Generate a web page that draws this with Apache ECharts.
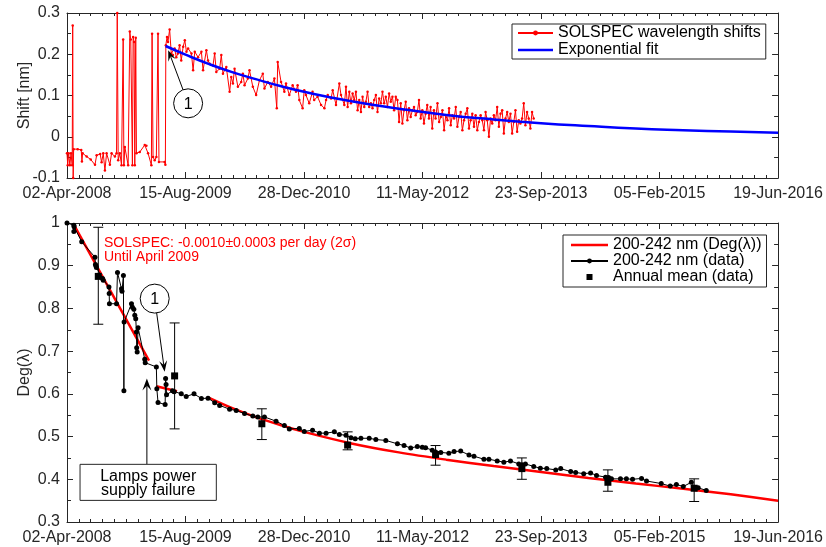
<!DOCTYPE html>
<html><head><meta charset="utf-8">
<script src="https://cdn.jsdelivr.net/npm/echarts@6/dist/echarts.min.js"></script>
<style>html,body{margin:0;padding:0;background:#fff}#chart{width:826px;height:547px}</style>
</head><body><div id="chart"></div>
<script>
// ---------------- data (x = days since 02-Apr-2008) ----------------
const xTickLabels = ['02-Apr-2008','15-Aug-2009','28-Dec-2010','11-May-2012','23-Sep-2013','05-Feb-2015','19-Jun-2016'];

const shiftDays = [0,3,7,12,17,22,24,26,28,45,60,63,66,83,100,118,125,140,146,153,160,167,181,188,202,209,212,216,223,230,237,240,244,258,265,269,276,279,283,286,290,293,307,328,335,342,356,359,363,370,377,384,388,412,415,
417,422,426,433,440,447,454,461,468,475,482,490,497,504,511,525,532,539,553,567,574,588,595,602,616,623,630,644,651,658,672,686,693,700,707,721,735,742,749,763,770,784,798,812,826,833,847,861,875,885,889,903,917,924,938,952,966,973,980,994,1001,1008,1022,1036,1043,1057,1072,1086,1093,1100,1114,1121,1135,1149,1156,1170,
1177,1184,1191,1198,1205,1212,1219,1226,1233,1240,1247,1254,1261,1268,1275,1282,1289,1296,1303,1310,1317,1324,1331,1338,1345,1352,1359,1366,1373,1380,1387,1394,1401,1408,1415,1422,1429,1436,1443,1450,1457,1464,1471,1478,1485,1492,1499,1506,1513,1520,1527,1534,1541,1548,1555,1563,1570,1577,1584,1591,1598,1605,1612,1619,1626,1633,1640,1647,1654,1661,1668,1675,1682,1689,1696,1703,1710,1717,1724,1731,1738,1745,1752,1759,1766,1773,1780,1787,1794,1801,1808,1815,1822,1829,1836,1843,1850,1857,1864,1871,1878,1885,1892,1899,1906,1913,1920,1927,1934,1941,1948,1955,1962,1969];
const shiftValues = [-0.040,-0.069,-0.040,-0.069,-0.040,-0.069,0.270,-0.100,-0.030,-0.030,-0.032,-0.060,-0.040,-0.048,-0.055,-0.068,-0.045,-0.042,-0.062,-0.040,-0.082,-0.040,-0.068,-0.040,-0.048,-0.040,0.300,-0.057,-0.040,-0.069,0.236,-0.069,-0.025,-0.069,0.255,0.236,-0.069,0.242,0.230,-0.069,0.240,-0.040,-0.037,-0.020,-0.022,-0.040,-0.069,0.250,-0.049,-0.057,-0.049,0.250,-0.061,-0.061,-0.068,
0.222,0.242,0.230,0.260,0.202,0.198,0.214,0.193,0.202,0.222,0.185,0.218,0.234,0.206,0.214,0.202,0.161,0.206,0.193,0.206,0.161,0.210,0.185,0.177,0.173,0.202,0.157,0.165,0.198,0.153,0.169,0.109,0.145,0.129,0.165,0.121,0.133,0.153,0.125,0.141,0.161,0.121,0.101,0.137,0.153,0.117,0.133,0.121,0.141,0.069,0.181,0.133,0.109,0.129,0.101,0.125,0.109,0.125,0.089,0.069,0.113,0.101,0.081,0.109,0.089,0.097,0.077,0.069,0.089,0.101,0.093,0.113,0.077,0.129,0.101,0.077,
0.121,0.072,0.109,0.081,0.105,0.089,0.109,0.064,0.089,0.060,0.097,0.072,0.085,0.109,0.072,0.081,0.069,0.089,0.101,0.060,0.093,0.081,0.109,0.081,0.097,0.072,0.105,0.085,0.097,0.064,0.097,0.089,0.036,0.081,0.032,0.064,0.085,0.040,0.069,0.048,0.064,0.072,0.052,0.060,0.089,0.044,0.064,0.032,0.056,0.077,0.044,0.072,0.020,0.064,0.044,0.081,0.036,0.048,0.064,0.016,0.052,0.040,0.069,0.028,0.052,0.044,0.072,0.024,0.048,0.060,0.016,0.040,0.056,0.069,0.020,0.040,0.056,0.024,0.052,0.016,0.036,0.052,0.040,0.016,0.060,0.040,0.000,0.044,0.032,0.052,0.040,0.072,0.024,0.056,0.064,0.008,0.044,0.060,0.036,0.056,0.008,0.036,0.064,0.012,0.040,0.032,0.044,0.081,0.028,0.060,0.044,0.020,0.060,0.044];

const expFitDays   = [416,500,600,700,800,900,1000,1200,1400,1600,1800,2000,2200,2400,2600,2800,3000];
const expFitValues = [0.220,0.199,0.176,0.156,0.139,0.123,0.109,0.086,0.068,0.053,0.042,0.033,0.026,0.020,0.016,0.0126,0.0099];

const degDays = [0,29,29,30,62,118,120,122,124,150,153,177,178,179,209,213,230,232,238,240,241,272,276,282,286,290,293,294,296,300,328,330,377,379,384,414,416,418,420,445,452,482,503,536,567,595,623,644,686,714,749,784,805,833,882,917,938,980,1001,1036,1065,1093,1128,1149,1177,1198,1216,1240,1275,1303,1345,1394,1422,1450,1478,1499,1513,1541,1555,1577,1611,1633,1661,1696,1717,1759,1780,1815,1843,1871,1906,1920,1934,1969,1997,2024,2062,2083,2125,2146,2180,2209,2234,2272,2285,2297,2335,2360,2386,2424,2445,2507,2545,2571,2600,2634,2651,2663,2697];
const degValues = [1.000,0.995,0.980,0.991,0.956,0.920,0.903,0.900,0.896,0.870,0.866,0.850,0.835,0.811,0.811,0.884,0.846,0.840,0.877,0.607,0.768,0.811,0.803,0.798,0.784,0.776,0.745,0.708,0.698,0.755,0.681,0.673,0.663,0.612,0.580,0.575,0.636,0.622,0.598,0.607,0.605,0.600,0.594,0.600,0.589,0.590,0.579,0.573,0.564,0.561,0.554,0.548,0.546,0.546,0.536,0.526,0.518,0.519,0.512,0.515,0.508,0.508,0.511,0.505,0.503,0.497,0.495,0.496,0.496,0.493,0.491,0.483,0.479,0.473,0.477,0.475,0.474,0.468,0.464,0.463,0.461,0.465,0.466,0.457,0.454,0.447,0.447,0.443,0.440,0.443,0.436,0.434,0.436,0.430,0.426,0.425,0.422,0.425,0.418,0.416,0.413,0.415,0.409,0.405,0.404,0.401,0.401,0.401,0.400,0.402,0.396,0.390,0.384,0.388,0.383,0.393,0.379,0.380,0.374];

const degFitDays   = [34,346,360,377,464,530,595,700,800,900,1000,1200,1400,1600,1800,2000,2200,2400,2600,2800,3000];
const degFitValues = [0.991,0.678,null,0.618,0.606,null,0.592,0.566,0.545,0.527,0.511,0.484,0.463,0.446,0.431,0.417,0.403,0.390,0.378,0.365,0.350];

const annualDays = [132,454,822,1184,1555,1919,2282,2646];
const annualMean = [0.875,0.642,0.530,0.480,0.458,0.425,0.393,0.379];
const annualLow  = [0.763,0.518,0.493,0.469,0.433,0.400,0.372,0.348];
const annualHigh = [0.990,0.766,0.565,0.511,0.479,0.450,0.422,0.401];

// ---------------- styling ----------------
const FONT = '"Liberation Sans", Arial, Helvetica, sans-serif';
const AX = '#262626', TXT = '#262626';
const zip = (a, b) => a.map((v, i) => [v, b[i]]);
const LINE_ICON = 'path://M0,0M37,6M0,1.75h37v2.5h-37z';

function xAxes(gridIndex) {
  const common = {
    type: 'value', gridIndex, min: 0, max: 3000, interval: 500,
    axisLine: {show: true, onZero: false, lineStyle: {color: AX, width: 1}},
    axisTick: {show: true, inside: true, length: 6, lineStyle: {color: AX}},
    minorTick: {show: true, splitNumber: 10, length: 3, lineStyle: {color: AX}},
    splitLine: {show: false}, minorSplitLine: {show: false}
  };
  return [
    Object.assign({}, common, {position: 'bottom', axisLabel: {show: true, fontSize: 16, fontFamily: FONT, color: TXT, margin: 8,
      formatter: v => xTickLabels[Math.round(v / 500)] || ''}}),
    Object.assign({}, common, {position: 'top', axisLabel: {show: false}})
  ];
}
function yAxes(gridIndex, min, max, name) {
  const common = {
    type: 'value', gridIndex, min, max, interval: 0.1,
    axisLine: {show: true, onZero: false, lineStyle: {color: AX, width: 1}},
    axisTick: {show: true, inside: true, length: 6, lineStyle: {color: AX}},
    minorTick: {show: true, splitNumber: 2, length: 4, lineStyle: {color: AX}},
    splitLine: {show: false}, minorSplitLine: {show: false}
  };
  return [
    Object.assign({}, common, {position: 'left', name, nameLocation: 'middle', nameGap: 34, nameMoveOverlap: false,
      nameTextStyle: {fontSize: 16, fontFamily: FONT, color: TXT},
      axisLabel: {show: true, fontSize: 16, fontFamily: FONT, color: TXT, margin: 7}}),
    Object.assign({}, common, {position: 'right', axisLabel: {show: false}})
  ];
}

const legendText = {fontSize: 16, fontFamily: FONT, color: '#000', lineHeight: 16};

const option = {
  animation: false,
  backgroundColor: '#fff',
  grid: [
    {left: 67, top: 13, width: 713, height: 165},
    {left: 67, top: 223, width: 713, height: 299}
  ],
  xAxis: [...xAxes(0), ...xAxes(1)],
  yAxis: [...yAxes(0, -0.1, 0.3, 'Shift [nm]'), ...yAxes(1, 0.3, 1, 'Deg(λ)')],
  legend: [
    {orient: 'vertical', left: 512, top: 24, padding: [1, 5, 1, 5], itemGap: 1, itemWidth: 35, itemHeight: 6,
     borderColor: AX, borderWidth: 1, backgroundColor: '#fff', selectedMode: false, align: 'left',
     textStyle: legendText,
     data: ['SOLSPEC wavelength shifts', {name: 'Exponential fit', icon: LINE_ICON}]},
    {orient: 'vertical', left: 563, top: 235, padding: [2, 5, 2, 7], itemGap: 0, itemWidth: 37, itemHeight: 6,
     borderColor: AX, borderWidth: 1, backgroundColor: '#fff', selectedMode: false, align: 'left',
     textStyle: legendText,
     data: [{name: '200-242 nm (Deg(λ))', icon: LINE_ICON}, '200-242 nm (data)',
            {name: 'Annual mean (data)', icon: 'path://M0,0M37,6M15.5,0h6v6h-6z'}]}
  ],
  series: [
    {name: 'SOLSPEC wavelength shifts', type: 'line', xAxisIndex: 0, yAxisIndex: 0,
     data: zip(shiftDays, shiftValues), symbol: 'circle', symbolSize: 2.5, showSymbol: true,
     itemStyle: {color: '#ff0000'}, lineStyle: {color: '#ff0000', width: 1}, z: 2},
    {name: 'Exponential fit', type: 'line', xAxisIndex: 0, yAxisIndex: 0,
     data: zip(expFitDays, expFitValues), smooth: true, showSymbol: false, symbol: 'none',
     itemStyle: {color: '#0000ff'}, lineStyle: {color: '#0000ff', width: 2.5}, z: 3},
    {name: '200-242 nm (Deg(λ))', type: 'line', xAxisIndex: 2, yAxisIndex: 2,
     data: zip(degFitDays, degFitValues), smooth: 0.3, connectNulls: false, showSymbol: false, symbol: 'none',
     itemStyle: {color: '#ff0000'}, lineStyle: {color: '#ff0000', width: 2.5}, z: 2},
    {name: '200-242 nm (data)', type: 'line', xAxisIndex: 2, yAxisIndex: 2,
     data: zip(degDays, degValues), symbol: 'circle', symbolSize: 5, showSymbol: true,
     itemStyle: {color: '#000', opacity: 1}, lineStyle: {color: '#000', width: 1}, z: 3},
    {name: 'Annual mean error', type: 'custom', xAxisIndex: 2, yAxisIndex: 2,
     data: annualDays.map((d, i) => [d, annualLow[i], annualHigh[i]]),
     encode: {x: 0, y: [1, 2]}, z: 4,
     renderItem: (params, api) => {
       const x = api.value(0);
       const pLo = api.coord([x, api.value(1)]), pHi = api.coord([x, api.value(2)]);
       const cap = 5, style = {stroke: '#000', lineWidth: 1};
       return {type: 'group', children: [
         {type: 'line', shape: {x1: pLo[0], y1: pLo[1], x2: pHi[0], y2: pHi[1]}, style},
         {type: 'line', shape: {x1: pLo[0] - cap, y1: pLo[1], x2: pLo[0] + cap, y2: pLo[1]}, style},
         {type: 'line', shape: {x1: pHi[0] - cap, y1: pHi[1], x2: pHi[0] + cap, y2: pHi[1]}, style}
       ]};
     }},
    {name: 'Annual mean (data)', type: 'scatter', xAxisIndex: 2, yAxisIndex: 2,
     data: zip(annualDays, annualMean), symbol: 'rect', symbolSize: 7,
     itemStyle: {color: '#000', opacity: 1}, z: 5}
  ]
};

const chart = echarts.init(document.getElementById('chart'));
chart.setOption(option);

// ---------------- annotations (anchored in data coordinates) ----------------
const toPx = (panel, d, v) => chart.convertToPixel({xAxisIndex: panel * 2, yAxisIndex: panel * 2}, [d, v]);
function arrow(S, T, L, W) {
  const dx = T[0] - S[0], dy = T[1] - S[1], len = Math.hypot(dx, dy);
  const ux = dx / len, uy = dy / len, nx = -uy, ny = ux;
  const back = [T[0] - ux * L, T[1] - uy * L];
  const notch = [T[0] - ux * L * 0.6, T[1] - uy * L * 0.6];
  return [
    {type: 'line', z: 100, shape: {x1: S[0], y1: S[1], x2: notch[0], y2: notch[1]}, style: {stroke: '#000', lineWidth: 1}},
    {type: 'polygon', z: 100, shape: {points: [T, [back[0] + nx * W, back[1] + ny * W], notch, [back[0] - nx * W, back[1] - ny * W]]}, style: {fill: '#000'}}
  ];
}
function circledOne(C, T, r) {
  const dx = T[0] - C[0], dy = T[1] - C[1], len = Math.hypot(dx, dy);
  const S = [C[0] + dx / len * r, C[1] + dy / len * r];
  return [
    {type: 'circle', z: 100, shape: {cx: C[0], cy: C[1], r}, style: {fill: '#fff', stroke: '#000', lineWidth: 1}},
    {type: 'text', z: 101, x: C[0], y: C[1] + 1, style: {text: '1', fontSize: 16, fontFamily: FONT, fill: '#000', align: 'center', verticalAlign: 'middle'}},
    ...arrow(S, T, 11, 4)
  ];
}
const g = [];
g.push(...circledOne(toPx(0, 511, 0.081), toPx(0, 427, 0.21), 14.5));
g.push(...circledOne(toPx(1, 370, 0.823), toPx(1, 412, 0.652), 14.5));
const boxTL = toPx(1, 55, 0.435), boxBR = toPx(1, 630, 0.3506);
const lampTip = toPx(1, 337, 0.636);
g.push(...arrow([lampTip[0], boxTL[1]], lampTip, 12, 4.5));
g.push({type: 'rect', z: 100, shape: {x: boxTL[0], y: boxTL[1], width: boxBR[0] - boxTL[0], height: boxBR[1] - boxTL[1]},
        style: {fill: '#fff', stroke: AX, lineWidth: 1}});
g.push({type: 'text', z: 101, x: (boxTL[0] + boxBR[0]) / 2, y: (boxTL[1] + boxBR[1]) / 2 + 1,
        style: {text: 'Lamps power\nsupply failure', fontSize: 16, lineHeight: 14, fontFamily: FONT, fill: '#000', align: 'center', verticalAlign: 'middle'}});
const t1 = toPx(1, 156, 0.952), t2 = toPx(1, 156, 0.920);
g.push({type: 'text', z: 101, x: t1[0], y: t1[1], style: {text: 'SOLSPEC: -0.0010±0.0003 per day (2σ)', fontSize: 14, fontFamily: FONT, fill: '#ff0000', align: 'left', verticalAlign: 'middle'}});
g.push({type: 'text', z: 101, x: t2[0], y: t2[1], style: {text: 'Until April 2009', fontSize: 14, fontFamily: FONT, fill: '#ff0000', align: 'left', verticalAlign: 'middle'}});
chart.setOption({graphic: g});
</script>
</body></html>
